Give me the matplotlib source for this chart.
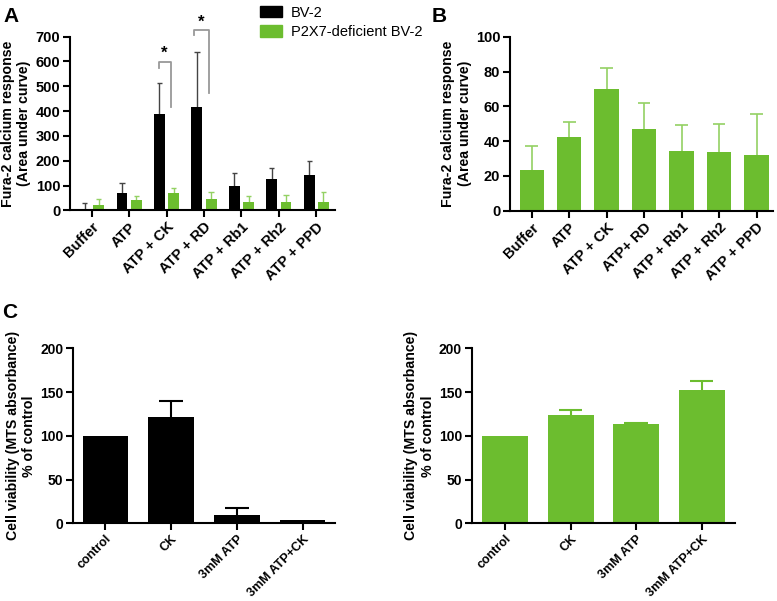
import numpy as np
import matplotlib
matplotlib.use("Agg")
import matplotlib.pyplot as plt
from matplotlib.patches import Patch

plt.rcParams['font.family'] = ['Liberation Sans', 'DejaVu Sans']

# panel A / B data
treat_ab = ["Buffer", "ATP", "ATP + CK", "ATP + RD", "ATP + Rb1", "ATP + Rh2", "ATP + PPD"]
treat_b = ["Buffer", "ATP", "ATP + CK", "ATP+ RD", "ATP + Rb1", "ATP + Rh2", "ATP + PPD"]
bv2_mean = [7, 70, 390, 418, 100, 127, 142]
bv2_err = [23, 40, 125, 220, 50, 45, 58]
p2x7_mean = [23, 43, 70, 47, 35, 35, 33]
p2x7_err = [24, 15, 20, 26, 23, 27, 42]
b_mean = [23.5, 42.5, 70, 47, 34.5, 34, 32]
b_err = [13.5, 8.5, 12, 15, 14.5, 16, 23.5]

# panel C data
treat_c = ["control", "CK", "3mM ATP", "3mM ATP+CK"]
c_black = [100, 121, 10, 4]
c_black_err = [0, 19, 7, 0]
c_green = [100, 124, 114, 152]
c_green_err = [0, 5, 1, 11]

GREEN = '#6cbd2f'
GREEN_ERR = '#93d163'
W, H = 777, 601

fig = plt.figure(figsize=(7.77, 6.01), dpi=100)


def box(l, r, t, b):
    return [l / W, 1 - b / H, (r - l) / W, (b - t) / H]


def up_err(ax, xs, means, errs, color, cap, lw):
    # only the upper half of the SEM bar, like GraphPad
    for xi, m, e in zip(xs, means, errs):
        if e <= 0:
            continue
        ax.vlines(xi, m, m + e, color=color, lw=lw, zorder=1)
        ax.hlines(m + e, xi - cap, xi + cap, color=color, lw=lw, zorder=1)


def style(ax, ymax, yticks, labels, xlim, fs):
    ax.set_ylim(0, ymax)
    ax.set_xlim(*xlim)
    ax.set_yticks(yticks)
    ax.set_xticks(range(len(labels)))
    ax.set_xticklabels(labels, rotation=45, ha='right', rotation_mode='anchor')
    for s in ['top', 'right']:
        ax.spines[s].set_visible(False)
    for s in ['left', 'bottom']:
        ax.spines[s].set_linewidth(1.5)
    ax.tick_params(width=1.5, length=5, labelsize=fs, pad=2)
    for lab in ax.get_xticklabels() + ax.get_yticklabels():
        lab.set_fontweight('bold')


ylab = "Fura-2 calcium response\n(Area under curve)"
ylab_c = "Cell viability (MTS absorbance)\n% of control"

# A
axA = fig.add_axes(box(70, 335, 36.7, 210.3))
x = np.arange(len(treat_ab))
axA.bar(x - 0.19, bv2_mean, 0.29, color='black', zorder=2)
up_err(axA, x - 0.19, bv2_mean, bv2_err, '#444444', 0.07, 1)
axA.bar(x + 0.19, p2x7_mean, 0.29, color=GREEN, zorder=2)
up_err(axA, x + 0.19, p2x7_mean, p2x7_err, GREEN_ERR, 0.07, 1)
style(axA, 700, range(0, 701, 100), treat_ab, (-0.58, 6.5), 10.5)
axA.set_ylabel(ylab, fontsize=10.2, fontweight='bold', labelpad=3)

# significance brackets
brackets = [(2 - 0.2, 2 + 0.11, 574, 597, 416, 634),
            (3 - 0.26, 3 + 0.13, 707, 727, 473, 760)]
for xl, xr, yl, yt, yr, ys in brackets:
    axA.plot([xl, xl, xr, xr], [yl, yt, yt, yr], color='#999999', lw=1.3,
             clip_on=False, zorder=3)
    axA.text((xl + xr) / 2 - 0.02, ys, '*', ha='center', va='center',
             fontsize=12, fontweight='bold')

fig.legend(handles=[Patch(color='black', label='BV-2'),
                    Patch(color=GREEN, label='P2X7-deficient BV-2')],
           loc='upper left', bbox_to_anchor=(247 / W, 1.012), frameon=False,
           fontsize=10.5, handlelength=1.5, handleheight=0.8, labelspacing=0.35,
           handletextpad=0.6)

# B
axB = fig.add_axes(box(510, 773, 36.7, 210.7))
axB.bar(x, b_mean, 0.65, color=GREEN, zorder=2)
up_err(axB, x, b_mean, b_err, GREEN_ERR, 0.17, 1.2)
style(axB, 100, range(0, 101, 20), treat_b, (-0.58, 6.44), 10.5)
axB.set_ylabel(ylab, fontsize=10.2, fontweight='bold', labelpad=3)

# C left
xc = np.arange(len(treat_c))
axC = fig.add_axes(box(73, 335, 348.3, 523.3))
axC.bar(xc, c_black, 0.69, color='black', zorder=2)
up_err(axC, xc, c_black, c_black_err, 'black', 0.18, 1.5)
style(axC, 200, range(0, 201, 50), treat_c, (-0.49, 3.49), 10)
axC.tick_params(axis='x', labelsize=9)
axC.set_ylabel(ylab_c, fontsize=10.2, fontweight='bold', labelpad=3)

# C right
axD = fig.add_axes(box(471.7, 735, 348.3, 523.3))
axD.bar(xc, c_green, 0.70, color=GREEN, zorder=2)
up_err(axD, xc, c_green, c_green_err, GREEN, 0.18, 1.5)
style(axD, 200, range(0, 201, 50), treat_c, (-0.51, 3.51), 10)
axD.tick_params(axis='x', labelsize=9)
axD.set_ylabel(ylab_c, fontsize=10.2, fontweight='bold', labelpad=3)

# panel letters
fig.text(3 / W, 1 - 16 / H, 'A', fontsize=15, fontweight='bold', va='center')
fig.text(432 / W, 1 - 16 / H, 'B', fontsize=15, fontweight='bold', va='center')
fig.text(2 / W, 1 - 312 / H, 'C', fontsize=15, fontweight='bold', va='center')

fig.savefig('out.png', dpi=100)
